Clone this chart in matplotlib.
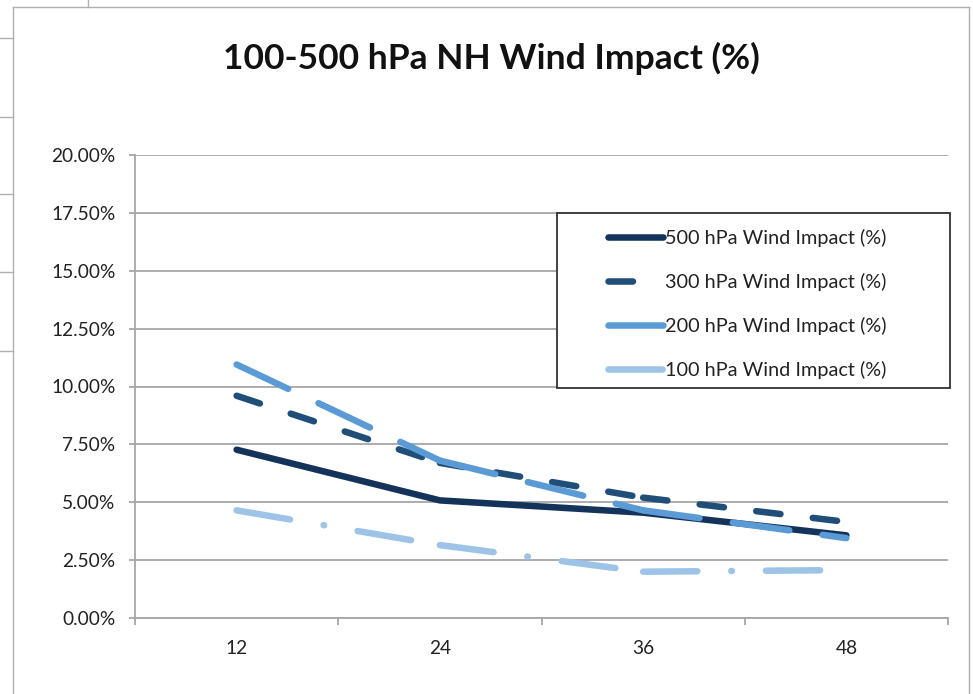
import matplotlib
matplotlib.use("Agg")
import matplotlib.pyplot as plt
from matplotlib.lines import Line2D
from matplotlib.patches import Rectangle
from matplotlib.ticker import FixedLocator, FuncFormatter

plt.rcParams['font.family'] = ['Lato', 'DejaVu Sans']
plt.rcParams['lines.scale_dashes'] = False

categories = ["12", "24", "36", "48"]
wind_500 = [7.27, 5.08, 4.55, 3.57]
wind_300 = [9.60, 6.70, 5.20, 4.15]
wind_200 = [10.95, 6.80, 4.65, 3.45]
wind_100 = [4.65, 3.15, 2.00, 2.07]
series_labels = ["500 hPa Wind Impact (%)", "300 hPa Wind Impact (%)",
                 "200 hPa Wind Impact (%)", "100 hPa Wind Impact (%)"]
yticks = [0, 2.5, 5, 7.5, 10, 12.5, 15, 17.5, 20]

W, H = 973, 694
fig = plt.figure(figsize=(W / 100, H / 100), dpi=100)
fig.patch.set_facecolor("white")

# spreadsheet / chart frame lines
def fl(x0, y0, x1, y1, c="#b0b0b0", lw=1.0):
    fig.add_artist(Line2D([x0 / W, x1 / W], [1 - y0 / H, 1 - y1 / H],
                          color=c, lw=lw, transform=fig.transFigure))

fl(13, 7, 13, H)
fl(13, 7, 969, 7)
fl(969, 7, 969, H)
fl(88, 0, 88, 7)
for yy in [38, 117, 194, 272, 351]:
    fl(0, yy, 13, yy)

ax = fig.add_axes([135 / W, 1 - 618 / H, (948 - 135) / W, (618 - 155) / H])
x = list(range(len(categories)))

lw = 4.7
styles = [
    dict(color="#14335A", solid_capstyle="round", solid_joinstyle="round"),
    dict(color="#1F4E79", dashes=(17.6, 23.4), dash_capstyle="round"),
    dict(color="#5B9BD5", dashes=(41, 24.2), dash_capstyle="round"),
    dict(color="#9DC3E6", dashes=(39, 24.5, 0.4, 24.5), dash_capstyle="round"),
]
all_series = [wind_500, wind_300, wind_200, wind_100]
for vals, st, lab in zip(all_series, styles, series_labels):
    if "dashes" in st:
        # dash pattern restarts on every segment (as in the source chart)
        for i in range(len(x) - 1):
            ax.plot(x[i:i + 2], vals[i:i + 2], lw=lw, zorder=3,
                    label=lab if i == 0 else "_nolegend_", **st)
    else:
        ax.plot(x, vals, lw=lw, zorder=3, label=lab, **st)

ax.set_xlim(-0.5, len(categories) - 0.5)
ax.set_ylim(0, 20)
ax.yaxis.set_major_locator(FixedLocator(yticks))
ax.yaxis.set_major_formatter(FuncFormatter(lambda v, p: f"{v:.2f}%"))
ax.set_xticks(x)
ax.set_xticklabels(categories)
ax.xaxis.set_minor_locator(FixedLocator([i - 0.5 for i in range(len(categories) + 1)]))

ax.grid(axis="y", color="#a6a6a6", lw=1.3, zorder=1)
ax.set_axisbelow(True)
for s in ["top", "right"]:
    ax.spines[s].set_visible(False)
for s in ["left", "bottom"]:
    ax.spines[s].set_color("#a6a6a6")
    ax.spines[s].set_linewidth(1.3)

ax.tick_params(axis="y", length=4, width=1.3, color="#a6a6a6", pad=10,
               labelsize=13.8, labelcolor="#222222")
ax.tick_params(axis="x", which="major", length=0, pad=16, labelsize=13.8,
               labelcolor="#222222")
ax.tick_params(axis="x", which="minor", length=5, width=1.3, color="#a6a6a6")

fig.text(491 / W, 1 - 58 / H, "100-500 hPa NH Wind Impact (%)", ha="center",
         va="center", fontsize=25.5, fontweight="bold", color="#111111")

# legend box
bx0, bx1, by0, by1 = 557, 950, 213, 388
def ax_xy(px, py):
    return ((px - 135) / (948 - 135), (618 - py) / (618 - 155))
lx0, ly0 = ax_xy(bx0, by1)
lx1, ly1 = ax_xy(bx1, by0)
ax.add_patch(Rectangle((lx0, ly0), lx1 - lx0, ly1 - ly0, transform=ax.transAxes,
                       facecolor="white", edgecolor="#333333", lw=1.3,
                       clip_on=False, zorder=5))
ax_leg_x, ax_leg_y = ax_xy(608, 229)
leg = ax.legend(loc="upper left", bbox_to_anchor=(ax_leg_x, ax_leg_y),
                frameon=False, fontsize=14.3, handlelength=2.75,
                handletextpad=0.1, labelspacing=1.3, borderpad=0,
                borderaxespad=0)
leg.set_zorder(6)
for t in leg.get_texts():
    t.set_color("#222222")

fig.savefig("out.png", dpi=100, facecolor="white")
